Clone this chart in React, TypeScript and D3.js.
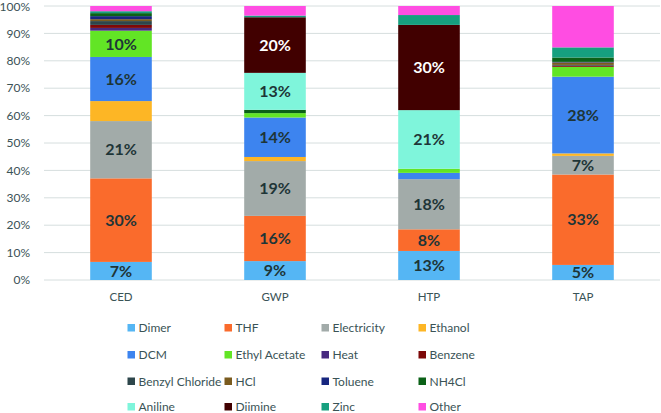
import React from "react";
import * as d3 from "d3";

const categories = ["CED", "GWP", "HTP", "TAP"];
const seriesNames = [
  "Dimer", "THF", "Electricity", "Ethanol",
  "DCM", "Ethyl Acetate", "Heat", "Benzene",
  "Benzyl Chloride", "HCl", "Toluene", "NH4Cl",
  "Aniline", "Diimine", "Zinc", "Other",
];
const seriesColors = [
  "#55B6F4", "#FA6B2C", "#A2ABA9", "#FDB625",
  "#3D84EF", "#62E525", "#47297F", "#7D0808",
  "#2D464B", "#7A5B1F", "#17267F", "#0B6117",
  "#7FF5DB", "#410000", "#16A07F", "#FF4DE2",
];

// values in % (per category CED, GWP, HTP, TAP)
const dimer = [6.6, 6.9, 10.6, 5.5];
const thf = [30.5, 16.5, 7.9, 33.0];
const electricity = [20.9, 20.0, 18.3, 6.8];
const ethanol = [7.3, 1.5, 0, 0.9];
const dcm = [16.1, 14.4, 2.3, 28.0];
const ethylAcetate = [9.6, 1.6, 1.5, 3.6];
const heat = [1.0, 0, 0, 0];
const benzene = [1.1, 0, 0, 0.4];
const benzylChloride = [1.4, 0, 0, 0.3];
const hcl = [0.7, 0, 0, 0.9];
const toluene = [1.1, 0, 0, 0.2];
const nh4cl = [1.1, 1.2, 0, 1.6];
const aniline = [0, 13.5, 21.4, 0];
const diimine = [0, 20.3, 31.1, 0];
const zinc = [0.7, 0.6, 3.6, 3.7];
const other = [1.9, 3.5, 3.3, 15.1];

const seriesValues = [
  dimer, thf, electricity, ethanol, dcm, ethylAcetate, heat, benzene,
  benzylChloride, hcl, toluene, nh4cl, aniline, diimine, zinc, other,
];

// data labels shown in the chart (null = no label)
const dimerLabels = [7, 9, 13, 5];
const thfLabels = [30, 16, 8, 33];
const electricityLabels = [21, 19, 18, 7];
const dcmLabels = [16, 14, null, 28];
const ethylAcetateLabels = [10, null, null, null];
const anilineLabels = [null, 13, 21, null];
const diimineLabels = [null, 20, 30, null];

const labelSeries = ["Dimer", "THF", "Electricity", "DCM", "Ethyl Acetate", "Aniline", "Diimine"];
const labelArrays = [dimerLabels, thfLabels, electricityLabels, dcmLabels, ethylAcetateLabels, anilineLabels, diimineLabels];

const yTicks = [0, 10, 20, 30, 40, 50, 60, 70, 80, 90, 100];

const W = 661;
const H = 413;
const FONT = "Lato, 'Open Sans', sans-serif";

export default function App() {
  const rows = categories.map((c, i) => {
    const r: any = { category: c };
    seriesNames.forEach((s, j) => (r[s] = seriesValues[j][i]));
    return r;
  });
  const stacked = d3.stack<any>().keys(seriesNames)(rows);

  const x = d3.scaleBand<string>().domain(categories).range([44, 660]).paddingInner(0.6).paddingOuter(0.3);
  const y = d3.scaleLinear().domain([0, 100]).range([280, 6]);

  const legendCols = [128, 225, 322, 419];
  const legendRows = [328, 355, 381.5, 407];

  return (
    <svg width={W} height={H} style={{ position: "absolute", left: 0, top: 0, background: "#fff" }} fontFamily={FONT}>
      {yTicks.map((t) => (
        <g key={t}>
          <line x1={44} x2={660} y1={y(t)} y2={y(t)} stroke="#D6DEDE" strokeWidth={1} />
          <text x={30} y={Math.max(y(t), 7)} dy="0.35em" textAnchor="end" fontSize={12} fill="#3A5356">
            {t}%
          </text>
        </g>
      ))}
      {stacked.map((layer, j) => (
        <g key={layer.key} fill={seriesColors[j]}>
          {layer.map((d, i) =>
            d[1] - d[0] > 0 ? (
              <rect
                key={i}
                x={x(categories[i])}
                width={x.bandwidth()}
                y={y(d[1])}
                height={y(d[0]) - y(d[1])}
              />
            ) : null
          )}
        </g>
      ))}
      {labelSeries.map((s, k) => {
        const j = seriesNames.indexOf(s);
        const layer = stacked[j];
        return labelArrays[k].map((lab, i) => {
          if (lab === null) return null;
          const d = layer[i];
          const cy = (y(d[0]) + y(d[1])) / 2;
          return (
            <text
              key={s + i}
              x={(x(categories[i]) as number) + x.bandwidth() / 2}
              y={cy}
              dy="0.36em"
              textAnchor="middle"
              fontSize={16}
              fontWeight="bold"
              fill={s === "Diimine" ? "#FFFFFF" : "#1E3537"}
            >
              {lab}%
            </text>
          );
        });
      })}
      {categories.map((c) => (
        <text
          key={c}
          x={(x(c) as number) + x.bandwidth() / 2}
          y={297}
          dy="0.35em"
          textAnchor="middle"
          fontSize={11.5}
          fill="#3A5356"
        >
          {c}
        </text>
      ))}
      {seriesNames.map((s, j) => {
        const cx = legendCols[j % 4];
        const cy = legendRows[Math.floor(j / 4)];
        return (
          <g key={s}>
            <rect x={cx - 0.5} y={cy - 4} width={7.5} height={7.5} fill={seriesColors[j]} />
            <text x={cx + 10.5} y={cy} dy="0.35em" fontSize={12} fill="#3A5356">
              {s}
            </text>
          </g>
        );
      })}
    </svg>
  );
}
